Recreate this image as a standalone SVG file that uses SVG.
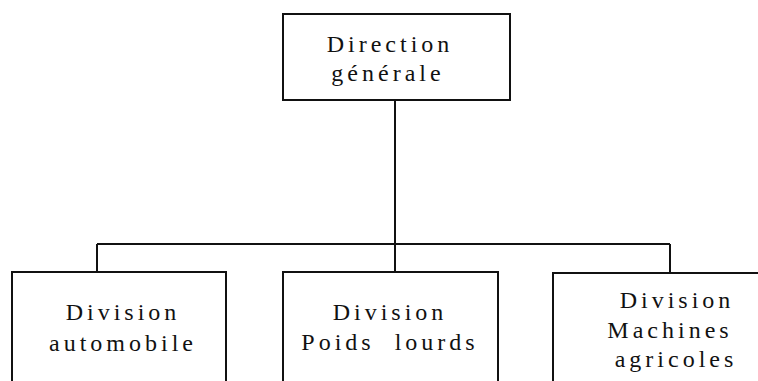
<svg xmlns="http://www.w3.org/2000/svg" width="758" height="381" viewBox="0 0 758 381">
<style>
.box{fill:none;stroke:#111;stroke-width:2}
.con{fill:none;stroke:#111;stroke-width:2}
text{font-family:"Liberation Serif","Times New Roman",serif;font-size:24px;fill:#111;letter-spacing:4px;text-anchor:middle}
</style>
<rect width="758" height="381" fill="#fff"/>
<g id="connectors">
<path class="con" d="M395,100 V244 M97,244 H670 M97,244 V272 M395,244 V272 M670,244 V272"/>
</g>
<g id="direction">
<rect class="box" x="283" y="14" width="227" height="86"/>
<text x="390" y="52">Direction</text>
<text x="388" y="81">générale</text>
</g>
<g id="div-auto">
<rect class="box" x="12" y="272" width="214" height="130"/>
<text x="123" y="320">Division</text>
<text x="123" y="351">automobile</text>
</g>
<g id="div-poids">
<rect class="box" x="283" y="272" width="215" height="130"/>
<text x="390" y="320">Division</text>
<text x="390" y="350" xml:space="preserve">Poids  lourds</text>
</g>
<g id="div-machines">
<rect class="box" x="553" y="273" width="240" height="130"/>
<text x="677" y="308">Division</text>
<text x="670" y="338">Machines</text>
<text x="676" y="367">agricoles</text>
</g>
</svg>
